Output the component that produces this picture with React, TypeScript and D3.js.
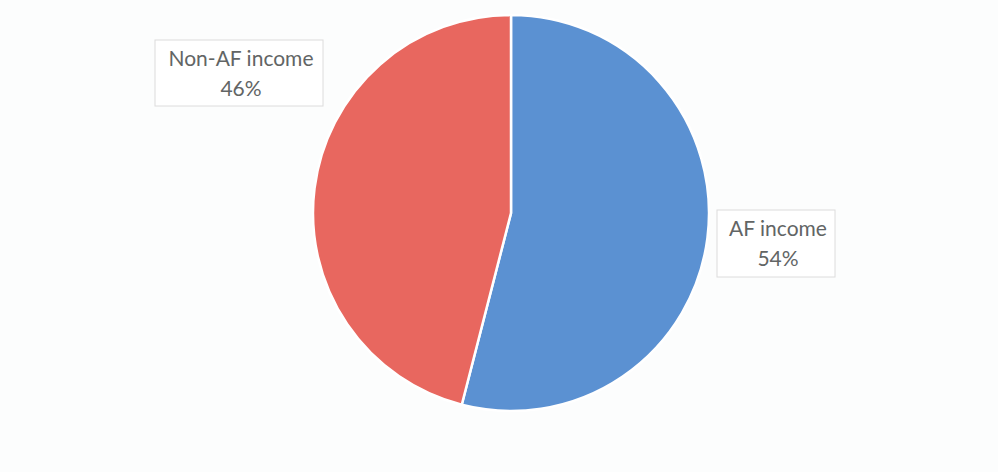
import React from "react";
import * as d3 from "d3";

const categories = ["AF income", "Non-AF income"];
const values = [54, 46];
const colors = ["#5b91d2", "#e8675f"];

const W = 998;
const H = 472;
const cx = 511;
const cy = 213;
const r = 198;

export default function App() {
  const pie = d3.pie<number>().sort(null).value((d) => d)(values);
  const arc = d3.arc<d3.PieArcDatum<number>>().innerRadius(0).outerRadius(r);
  const boxes = [
    { x: 717, y: 210, w: 118, h: 67, tx: 778 },
    { x: 155, y: 40, w: 168, h: 66, tx: 241 },
  ];
  return (
    <svg
      width={W}
      height={H}
      style={{ position: "absolute", left: 0, top: 0, background: "#fcfdfd" }}
    >
      <rect x={0} y={0} width={W} height={H} fill="#fcfdfd" />
      <g transform={`translate(${cx},${cy})`}>
        {pie.map((p, i) => (
          <path key={i} d={arc(p) || ""} fill={colors[i]} stroke="#ffffff" strokeWidth={2.5} />
        ))}
      </g>
      {boxes.map((b, i) => (
        <g key={i}>
          <rect x={b.x} y={b.y} width={b.w} height={b.h} fill="#ffffff" stroke="#dcdcdc" strokeWidth={1} />
          <text
            x={b.tx}
            y={b.y + 26}
            textAnchor="middle"
            fontFamily="Lato, 'Open Sans', sans-serif"
            fontSize={21}
            fill="#626565"
          >
            {categories[i]}
          </text>
          <text
            x={b.tx}
            y={b.y + 56}
            textAnchor="middle"
            fontFamily="Lato, 'Open Sans', sans-serif"
            fontSize={21}
            fill="#626565"
          >
            {`${values[i]}%`}
          </text>
        </g>
      ))}
    </svg>
  );
}
